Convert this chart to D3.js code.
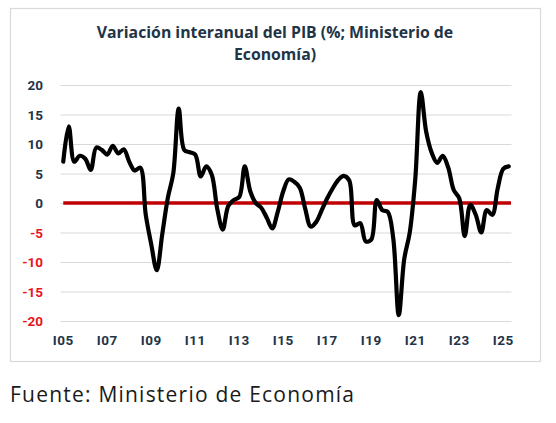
<!DOCTYPE html>
<html>
<head>
<meta charset="utf-8">
<script src="https://cdn.jsdelivr.net/npm/d3@7"></script>
<style>
  html, body { margin: 0; padding: 0; background: #fff; }
  svg { display: block; }
</style>
</head>
<body>
<svg id="chart" width="556" height="423"></svg>
<script>
// ---- Data ----
const years = ["05","06","07","08","09","10","11","12","13","14","15","16","17","18","19","20","21","22","23","24","25"];
const quarters = ["I","II","III","IV"];
const values = [
  7.0, 13.0, 7.0, 8.0,     // 2005
  7.5, 5.6, 9.4, 9.0,      // 2006
  8.2, 9.7, 8.4, 9.1,      // 2007
  7.0, 5.5, 6.0, -2.0,     // 2008
  -7.0, -11.4, -5.3, 0.8,  // 2009
  5.0, 16.0, 9.0, 8.6,     // 2010
  8.2, 4.5, 6.2, 4.8,      // 2011
  -1.0, -4.5, -0.5, 0.5,   // 2012
  1.0, 6.2, 2.0, 0.0,      // 2013
  -0.8, -2.5, -4.3, -1.5,  // 2014
  2.0, 4.0, 3.6, 2.6,      // 2015
  -1.0, -4.0, -3.2, -1.2,  // 2016
  0.8, 2.5, 3.9, 4.6,      // 2017
  3.8, -3.8, -3.4, -6.5,   // 2018
  -6.2, 0.5, -1.2, -1.5,   // 2019
  -6.0, -19.0, -9.5, -5.0, // 2020
  4.0, 18.8, 12.0, 8.5,    // 2021
  6.8, 8.0, 6.0, 2.2,      // 2022
  0.8, -5.6, -0.3, -2.0,   // 2023
  -5.0, -1.2, -2.0, 2.5,   // 2024
  5.8, 6.2                 // 2025
];
const categories = [];
years.forEach(y => quarters.forEach(q => categories.push(q + y)));
categories.length = values.length;
const tickLabels = ["I05","I07","I09","I11","I13","I15","I17","I19","I21","I23","I25"];
const yTicks = [20, 15, 10, 5, 0, -5, -10, -15, -20];

const titleLines = ["Variación interanual del PIB (%; Ministerio de", "Economía)"];
const sourceText = "Fuente: Ministerio de Economía";

// ---- Drawing ----
const svg = d3.select("#chart");
const navy = "#1e3447";

svg.append("rect")
  .attr("x", 10.5).attr("y", 8.5)
  .attr("width", 530).attr("height", 353)
  .attr("fill", "#fff").attr("stroke", "#d9d9d9").attr("stroke-width", 1.2);

const x = d3.scaleBand().domain(categories).range([60.5, 511.5]).paddingInner(0).paddingOuter(0);
const xc = d => x(d) + x.bandwidth() / 2;
const y = d3.scaleLinear().domain([-20, 20]).range([321, 85]);

// gridlines
svg.append("g").selectAll("line").data(yTicks).join("line")
  .attr("x1", 60.5).attr("x2", 511.5)
  .attr("y1", d => y(d) + 0.5).attr("y2", d => y(d) + 0.5)
  .attr("stroke", "#d9d9d9").attr("stroke-width", 1);

// y labels
svg.append("g").selectAll("text").data(yTicks).join("text")
  .attr("x", 43).attr("y", d => y(d))
  .attr("text-anchor", "end").attr("dominant-baseline", "central")
  .attr("font-family", "Roboto, 'Open Sans', sans-serif")
  .attr("font-weight", "bold").attr("font-size", 13.5)
  .attr("fill", d => d < 0 ? "#e8141c" : navy)
  .text(d => d);

// x labels
svg.append("g").selectAll("text").data(tickLabels).join("text")
  .attr("x", d => xc(d)).attr("y", 340)
  .attr("text-anchor", "middle").attr("dominant-baseline", "central")
  .attr("font-family", "Roboto, 'Open Sans', sans-serif")
  .attr("font-weight", "bold").attr("font-size", 13.5)
  .attr("letter-spacing", 0.6)
  .attr("fill", navy)
  .text(d => d);

// zero line
svg.append("line")
  .attr("x1", xc(categories[0])).attr("x2", 511)
  .attr("y1", y(0)).attr("y2", y(0))
  .attr("stroke", "#c00000").attr("stroke-width", 3.5);

// series line
const line = d3.line()
  .x((d, i) => xc(categories[i]))
  .y(d => y(d))
  .curve(d3.curveCatmullRom.alpha(0.5));
svg.append("path").datum(values)
  .attr("d", line)
  .attr("fill", "none").attr("stroke", "#000")
  .attr("stroke-width", 4.2).attr("stroke-linejoin", "round").attr("stroke-linecap", "round");

// title
svg.append("g").selectAll("text").data(titleLines).join("text")
  .attr("x", 275).attr("y", (d, i) => 32 + i * 22)
  .attr("text-anchor", "middle").attr("dominant-baseline", "central")
  .attr("font-family", "'Open Sans', sans-serif")
  .attr("font-weight", "bold").attr("font-size", 15.8)
  .attr("fill", navy)
  .text(d => d);

// source
svg.append("text")
  .attr("x", 10).attr("y", 402)
  .attr("font-family", "'Open Sans', sans-serif")
  .attr("font-size", 21)
  .attr("textLength", 344).attr("lengthAdjust", "spacing")
  .attr("fill", "#1a1a1a")
  .text(sourceText);
</script>
</body>
</html>
